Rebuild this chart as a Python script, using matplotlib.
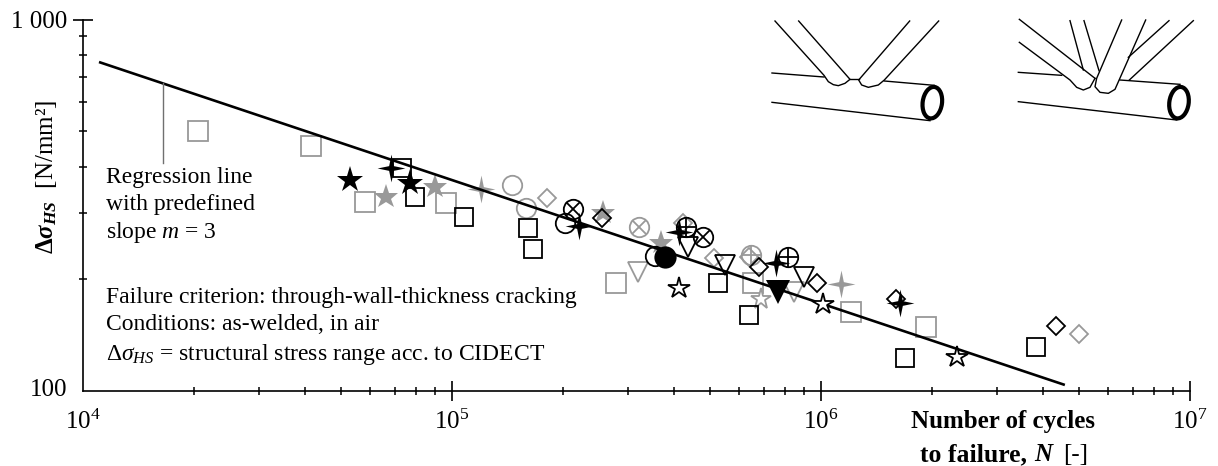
import matplotlib
matplotlib.use('Agg')
import matplotlib.pyplot as plt
from matplotlib.patches import Ellipse
from matplotlib.path import Path
from matplotlib.ticker import LogLocator, NullFormatter
from matplotlib.transforms import ScaledTranslation

plt.rcParams['font.family'] = ['Liberation Serif', 'DejaVu Serif']
plt.rcParams['mathtext.fontset'] = 'custom'
plt.rcParams['mathtext.rm'] = 'Liberation Serif'
plt.rcParams['mathtext.it'] = 'Liberation Serif:italic'
plt.rcParams['mathtext.bf'] = 'Liberation Serif:bold'
plt.rcParams['mathtext.bfit'] = 'Liberation Serif:italic:bold'
plt.rcParams['mathtext.default'] = 'regular'

# regression line
reg_n = [11050, 4580000]
reg_s = [768, 103.5]

# test results
gray_square_n = [20500, 41500, 58100, 96300, 278000, 654000, 1206000, 1925000]
gray_square_s = [500, 456, 322, 320, 195, 195, 163, 148]
black_square_n = [73200, 79400, 108000, 161000, 166000, 526000, 638000, 1690000, 3830000]
black_square_s = [398, 332, 294, 274, 241, 195, 160, 122, 131]

black_star_n = [52900, 76900]
black_star_s = [369, 363]
gray_star_n = [66200, 89900, 257000, 368000]
gray_star_s = [332, 354, 301, 250]

black_spark_n = [68300, 221000, 412000, 755000, 1640000]
black_spark_s = [398, 278, 267, 221, 172]
gray_spark_n = [120000, 1133000]
gray_spark_s = [349, 194]

gray_circle_n = [145000, 159000]
gray_circle_s = [358, 310]
black_circle_n = [202000, 355000]
black_circle_s = [283, 230]
filled_circle_n = [378000]
filled_circle_s = [229]

black_cross_n = [213000, 479000]
black_cross_s = [308, 259]
gray_cross_n = [321000]
gray_cross_s = [276]
black_plus_n = [431000, 814000]
black_plus_s = [276, 229]
gray_plus_n = [646000]
gray_plus_s = [232]

gray_diamond_n = [181000, 423000, 513000, 638000, 5000000]
gray_diamond_s = [330, 283, 228, 229, 142]
black_diamond_n = [255000, 679000, 975000, 1597000, 4330000]
black_diamond_s = [292, 215, 195, 176, 149]

black_tri_n = [436000, 549000, 899000]
black_tri_s = [244, 218, 202]
gray_tri_n = [319000, 845000]
gray_tri_s = [209, 184]
filled_tri_n = [765000]
filled_tri_s = [184]

open_star_n = [412000, 1013000, 2340000]
open_star_s = [189, 171, 123]
gray_open_star_n = [688000]
gray_open_star_s = [176]

GRAY = '#999999'
BLACK = '#000000'
spark = Path.unit_regular_star(4, innerCircle=0.24)

W, H = 1218, 466
fig = plt.figure(figsize=(W / 100, H / 100), dpi=100)
ax = fig.add_axes([83 / W, (H - 390.5) / H, 1107 / W, 371 / H])
ax.set_xscale('log')
ax.set_yscale('log')
ax.set_xlim(1e4, 1e7)
ax.set_ylim(100, 1000)


def hollow(n, s, marker, color, ms, **kw):
    ax.plot(n, s, ls='none', marker=marker, ms=ms, mfc='none', mec=color, mew=1.3, zorder=3, **kw)


def solid(n, s, marker, color, ms, z=4):
    ax.plot(n, s, ls='none', marker=marker, ms=ms, mfc=color, mec=color, mew=0, zorder=z)


hollow(gray_square_n, gray_square_s, 's', GRAY, 14)
hollow(gray_circle_n, gray_circle_s, 'o', GRAY, 14)
hollow(gray_diamond_n, gray_diamond_s, 'D', GRAY, 9.5)
hollow(gray_tri_n, gray_tri_s, 'v', GRAY, 14.5)
hollow(gray_cross_n, gray_cross_s, 'o', GRAY, 14)
hollow(gray_cross_n, gray_cross_s, 'x', GRAY, 10)
hollow(gray_plus_n, gray_plus_s, 'o', GRAY, 14)
hollow(gray_plus_n, gray_plus_s, '+', GRAY, 14)
solid(gray_star_n, gray_star_s, '*', GRAY, 18.5, z=3)
solid(gray_spark_n, gray_spark_s, spark, GRAY, 20, z=3)
ax.plot(gray_open_star_n, gray_open_star_s, ls='none', marker='*', ms=15.5, mfc='white', mec=GRAY, mew=1.3, zorder=3)

ax.plot(reg_n, reg_s, color=BLACK, lw=1.9, zorder=3.5, solid_capstyle='butt')

hollow(black_square_n, black_square_s, 's', BLACK, 13.5)
hollow(black_circle_n, black_circle_s, 'o', BLACK, 14)
hollow(black_diamond_n, black_diamond_s, 'D', BLACK, 9.5)
hollow(black_tri_n, black_tri_s, 'v', BLACK, 14.5)
hollow(black_cross_n, black_cross_s, 'o', BLACK, 14)
hollow(black_cross_n, black_cross_s, 'x', BLACK, 10)
hollow(black_plus_n, black_plus_s, 'o', BLACK, 14)
hollow(black_plus_n, black_plus_s, '+', BLACK, 14)
solid(black_star_n, black_star_s, '*', BLACK, 19.5)
solid(black_spark_n, black_spark_s, spark, BLACK, 20)
solid(filled_circle_n, filled_circle_s, 'o', BLACK, 16)
solid(filled_tri_n, filled_tri_s, 'v', BLACK, 17)
ax.plot(open_star_n, open_star_s, ls='none', marker='*', ms=16, mfc='white', mec=BLACK, mew=1.3, zorder=4)

# axes
ax.spines['top'].set_visible(False)
ax.spines['right'].set_visible(False)
ax.spines['left'].set_linewidth(1.2)
ax.spines['bottom'].set_linewidth(1.2)
ax.set_xticks([1e4, 1e5, 1e6, 1e7])
ax.set_xticklabels(['$10^{4}$', '$10^{5}$', '$10^{6}$', '$10^{7}$'])
ax.set_yticks([100, 1000])
ax.set_yticklabels(['100', '1 000'])
ax.xaxis.set_minor_locator(LogLocator(base=10, subs=range(2, 10), numticks=20))
ax.yaxis.set_minor_locator(LogLocator(base=10, subs=range(2, 10), numticks=20))
ax.xaxis.set_minor_formatter(NullFormatter())
ax.yaxis.set_minor_formatter(NullFormatter())
ax.tick_params(which='major', direction='inout', length=14, width=1.2, labelsize=18)
ax.tick_params(axis='x', which='major', pad=7)
ax.tick_params(axis='y', which='major', pad=4.3)
ax.tick_params(which='minor', direction='inout', length=5.5, width=1.1)
ax.xaxis.get_major_ticks()[0].tick1line.set_visible(False)
ax.yaxis.get_major_ticks()[0].tick1line.set_visible(False)
# the 100 sits a little above the axis line
lab100 = ax.get_yticklabels()[0]
lab100.set_transform(lab100.get_transform() + ScaledTranslation(0, 3 / 100, fig.dpi_scale_trans))
ax.patch.set_alpha(0)

# overlay in pixel units for notes and the two joint sketches
top = fig.add_axes([0, 0, 1, 1])
top.set_xlim(0, W)
top.set_ylim(H, 0)
top.axis('off')

top.plot([163, 163], [83, 163], color='#707070', lw=1.0)

for x, y, s in [(106, 183, 'Regression line'),
                (106, 210, 'with predefined'),
                (106, 238, 'slope $\\mathit{m}$ = 3'),
                (106, 303, 'Failure criterion: through-wall-thickness cracking'),
                (106, 330, 'Conditions: as-welded, in air'),
                (106, 360, '$\\Delta\\mathit{\\sigma}_{\\mathit{HS}}$ = structural stress range acc. to CIDECT')]:
    top.text(x, y, s, fontsize=17, va='baseline', ha='left', color='#000000')

top.text(1003, 428, 'Number of cycles', fontsize=18, fontweight='bold', ha='center', va='baseline')
top.text(920, 461, 'to failure,', fontsize=18.5, fontweight='bold', ha='left', va='baseline')
top.text(1034, 461, 'N', fontsize=18, fontweight='bold', style='italic', ha='left', va='baseline')
top.text(1063, 461, '[-]', fontsize=18, ha='left', va='baseline')

top.text(47, 177, '$\\mathbf{\\Delta}\\mathbfit{\\sigma}_{\\mathbfit{HS}}$  [N/mm²]', fontsize=18,
         rotation=90, ha='center', va='center')

# sketches, traced in a 3x grid starting at x=750
left_sketch = [
    [(66, 219), (222, 231)],
    [(403, 243), (553, 256)],
    [(300, 238), (326, 238)],
    [(66, 307), (540, 362)],
    [(75, 63), (222, 226), (235, 245), (250, 254), (265, 257), (285, 250), (300, 238), (146, 63)],
    [(566, 63), (403, 240), (385, 255), (355, 262), (335, 255), (326, 240), (479, 63)],
]
right_sketch = [
    [(805, 217), (935, 226)],
    [(1110, 240), (1290, 253)],
    [(805, 305), (1280, 360)],
    [(808, 58), (1035, 235)],
    [(808, 127), (960, 240), (980, 262), (1000, 270), (1020, 262), (1035, 235)],
    [(960, 62), (1000, 210)],
    [(1002, 62), (1047, 212)],
    [(1115, 60), (1040, 235), (1035, 260), (1050, 277), (1075, 280), (1095, 268), (1187, 60)],
    [(1257, 62), (1135, 172)],
    [(1330, 62), (1138, 240)],
]
for seg in left_sketch + right_sketch:
    top.plot([750 + p[0] / 3 for p in seg], [p[1] / 3 for p in seg], color=BLACK, lw=1.0,
             solid_joinstyle='round')
for cx in (547, 1287):
    top.add_patch(Ellipse((750 + cx / 3, 308 / 3), 58 / 3, 95 / 3, angle=8, fc='white', ec=BLACK, lw=3.0))

fig.savefig('out.png', dpi=100)
plt.close(fig)
